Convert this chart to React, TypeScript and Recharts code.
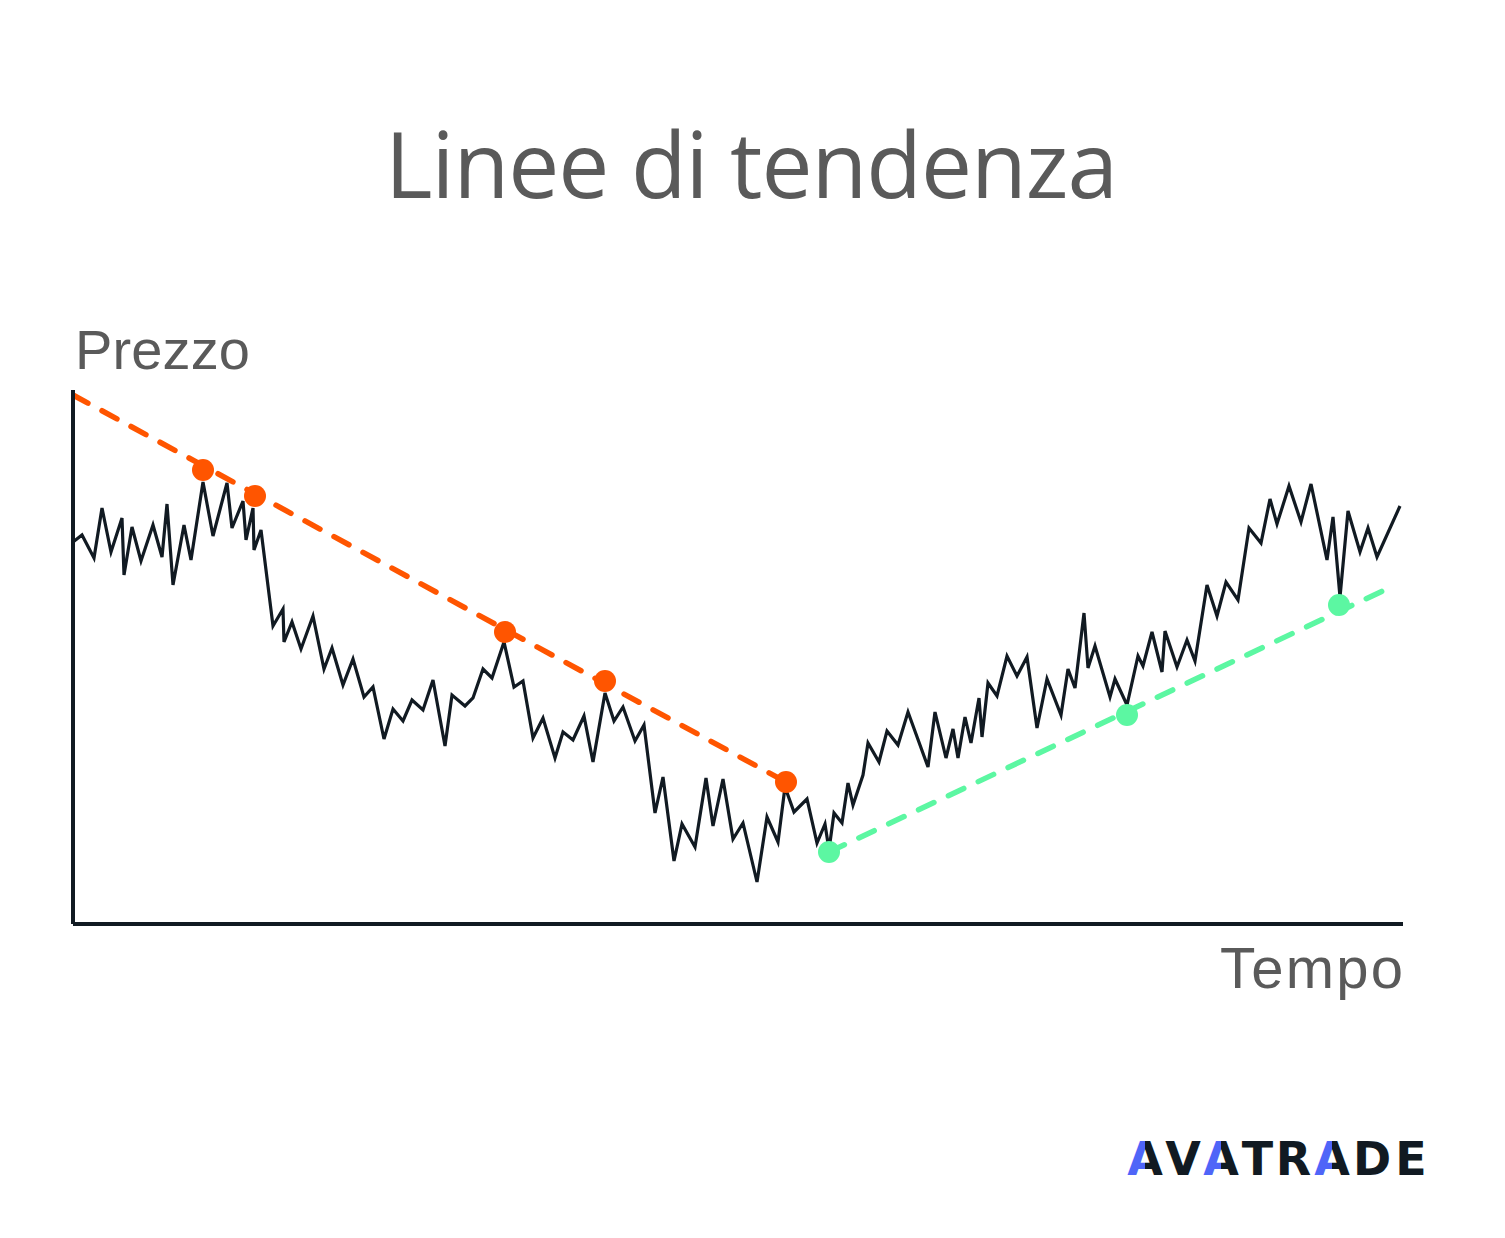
import React from "react";
import { ComposedChart, Line, Scatter, XAxis, YAxis } from "recharts";

// Price path (time units, price units)
const times = [
  0, 9, 21, 29, 38, 49, 51, 59, 68, 80, 89, 94, 100, 111, 118, 130, 140, 154, 159, 170,
  173, 180, 181, 188, 200, 210, 211, 219, 228, 240, 251, 259, 270, 280, 291, 300, 311, 320, 330, 339,
  350, 360, 372, 379, 392, 400, 410, 419, 431, 441, 450, 460, 470, 482, 490, 500, 511, 520, 532, 541,
  550, 562, 571, 582, 590, 601, 609, 622, 633, 640, 650, 660, 670, 684, 694, 705, 712, 721, 734, 744,
  752, 756, 761, 769, 775, 780, 790, 795, 806, 814, 825, 835, 855, 862, 873, 880, 885, 892, 898, 906,
  909, 915, 924, 934, 944, 954, 964, 974, 988, 995, 1002, 1011, 1015, 1022, 1037, 1042, 1054, 1065, 1070, 1079,
  1089, 1092, 1104, 1114, 1122, 1134, 1144, 1153, 1165, 1176, 1188, 1197, 1204, 1216, 1228, 1238, 1254, 1260, 1267, 1275,
  1287, 1295, 1304, 1327,
];
const prices = [
  382, 389, 366, 416, 372, 406, 349, 397, 363, 399, 367, 420, 339, 399, 364, 442, 388, 441, 396, 423,
  384, 416, 374, 394, 298, 315, 282, 302, 275, 308, 255, 276, 239, 265, 227, 237, 185, 215, 203, 224,
  214, 244, 178, 229, 218, 226, 255, 246, 282, 237, 243, 186, 206, 166, 192, 184, 208, 162, 231, 203,
  217, 183, 199, 111, 147, 63, 100, 77, 146, 98, 145, 85, 101, 42, 107, 82, 137, 112, 125, 81,
  100, 74, 111, 101, 141, 119, 149, 181, 162, 193, 179, 212, 157, 212, 166, 195, 166, 207, 181, 226,
  187, 241, 228, 268, 248, 267, 196, 245, 209, 255, 236, 311, 256, 278, 227, 245, 219, 268, 258, 292,
  252, 293, 257, 284, 263, 339, 308, 342, 324, 396, 381, 425, 400, 438, 402, 440, 364, 407, 327, 413,
  372, 396, 367, 418,
];

// Downtrend (resistance) line and its touch points
const downTimes = [0, 713];
const downPrices = [529, 142];
const downTouchTimes = [130, 182, 432, 532, 713];
const downTouchPrices = [454, 428, 292, 243, 142];

// Uptrend (support) line and its touch points
const upTimes = [756, 1318];
const upPrices = [72, 337];
const upTouchTimes = [756, 1054, 1266];
const upTouchPrices = [72, 209, 319];

const TITLE = "Linee di tendenza";
const Y_LABEL = "Prezzo";
const X_LABEL = "Tempo";
const BRAND = ["A", "V", "A", "T", "R", "A", "D", "E"];

const zip = (xs: number[], ys: number[]) => xs.map((x, i) => ({ x, y: ys[i] }));

const priceData = zip(times, prices);
const downData = zip(downTimes, downPrices);
const downDots = zip(downTouchTimes, downTouchPrices);
const upData = zip(upTimes, upPrices);
const upDots = zip(upTouchTimes, upTouchPrices);

const DARK = "#111a22";
const ORANGE = "#ff5500";
const GREEN = "#5cf7a2";
const GREY = "#5a5a5a";
const BLUE = "#4f65f8";

const dotShape = (color: string) => (p: any) =>
  <circle cx={p.cx} cy={p.cy} r={11} fill={color} />;

export default function App() {
  const brandX = [1126, 1164, 1202, 1241, 1275, 1313, 1352, 1394];
  const brandW = [38, 38, 38, 33, 37, 38, 40, 34];
  return (
    <div style={{ position: "absolute", left: 0, top: 0, width: 1505, height: 1238, background: "#fff" }}>
      <div style={{ position: "absolute", left: 0, top: 0 }}>
        <ComposedChart
          width={1505}
          height={1238}
          margin={{ top: 390, left: 72, right: 102, bottom: 313 }}
        >
          <XAxis
            type="number"
            dataKey="x"
            domain={[0, 1330]}
            allowDataOverflow
            height={1}
            tick={false}
            tickLine={false}
            axisLine={{ stroke: DARK, strokeWidth: 4 }}
          />
          <YAxis
            type="number"
            dataKey="y"
            domain={[0, 534]}
            allowDataOverflow
            width={1}
            tick={false}
            tickLine={false}
            axisLine={{ stroke: DARK, strokeWidth: 4 }}
          />
          <Line
            data={priceData}
            dataKey="y"
            type="linear"
            stroke={DARK}
            strokeWidth={3.2}
            dot={false}
            activeDot={false}
            isAnimationActive={false}
          />
          <Line
            data={downData}
            dataKey="y"
            type="linear"
            stroke={ORANGE}
            strokeWidth={5.5}
            strokeDasharray="17 16"
            strokeLinecap="round"
            dot={false}
            activeDot={false}
            isAnimationActive={false}
          />
          <Line
            data={upData}
            dataKey="y"
            type="linear"
            stroke={GREEN}
            strokeWidth={5.5}
            strokeDasharray="17 16"
            strokeLinecap="round"
            dot={false}
            activeDot={false}
            isAnimationActive={false}
          />
          <Scatter data={downDots} dataKey="y" fill={ORANGE} shape={dotShape(ORANGE)} isAnimationActive={false} />
          <Scatter data={upDots} dataKey="y" fill={GREEN} shape={dotShape(GREEN)} isAnimationActive={false} />
        </ComposedChart>
      </div>
      <svg
        width={1505}
        height={1238}
        style={{ position: "absolute", left: 0, top: 0, pointerEvents: "none" }}
      >
        <defs>
          {BRAND.map((ch, i) =>
            ch === "A" ? (
              <linearGradient
                key={i}
                id={`ga${i}`}
                gradientUnits="userSpaceOnUse"
                x1={brandX[i]}
                x2={brandX[i] + brandW[i]}
                y1={0}
                y2={0}
              >
                <stop offset="0.5" stopColor={BLUE} />
                <stop offset="0.5" stopColor={DARK} />
              </linearGradient>
            ) : null
          )}
        </defs>
        <text
          x={385}
          y={198}
          textLength={733}
          fontFamily="'Open Sans', sans-serif"
          fontSize={91}
          fill={GREY}
        >
          {TITLE}
        </text>
        <text x={75} y={369} textLength={175} fontFamily="'Liberation Sans', Arial, sans-serif" fontSize={56} fill={GREY}>
          {Y_LABEL}
        </text>
        <text
          x={1220}
          y={988}
          textLength={183}
          fontFamily="'Liberation Sans', Arial, sans-serif"
          fontSize={58}
          fill={GREY}
        >
          {X_LABEL}
        </text>
        {BRAND.map((ch, i) => (
          <text
            key={i}
            x={brandX[i] + brandW[i] / 2}
            y={1175}
            textAnchor="middle"
            fontFamily="'DejaVu Sans', sans-serif"
            fontWeight="bold"
            fontSize={46}
            fill={ch === "A" ? `url(#ga${i})` : DARK}
          >
            {ch}
          </text>
        ))}
      </svg>
    </div>
  );
}
